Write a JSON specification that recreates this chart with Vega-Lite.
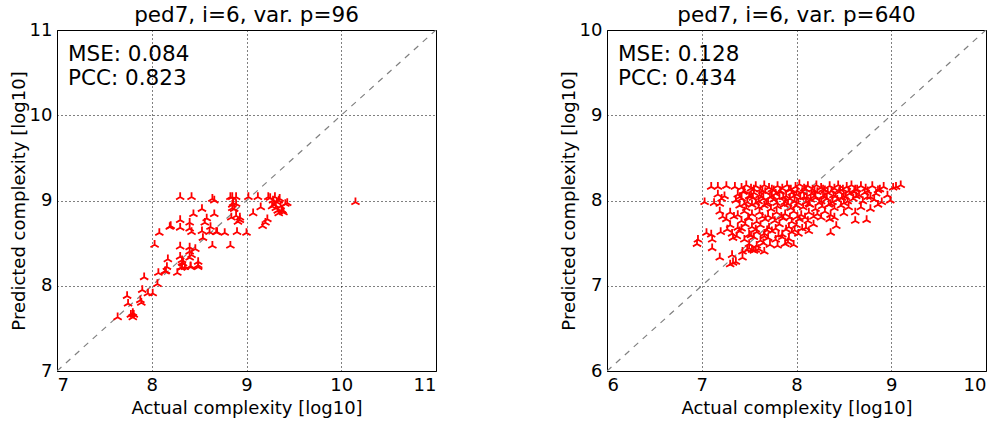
{
 "$schema": "https://vega.github.io/schema/vega-lite/v6.json",
 "background": "white",
 "padding": {"left": 9, "top": 4, "right": 2, "bottom": 2},
 "spacing": 122,
 "datasets": {
  "left": [
   {"a":8.30,"p":9.04},{"a":8.42,"p":9.04},{"a":8.64,"p":9.02},{"a":8.66,"p":9.00},{"a":8.83,"p":9.04},{"a":8.85,"p":9.04},{"a":8.89,"p":9.04},{"a":9.02,"p":9.04},{"a":9.12,"p":9.04},{"a":9.23,"p":9.04},
   {"a":9.28,"p":9.00},{"a":9.32,"p":8.98},{"a":9.34,"p":9.00},{"a":9.29,"p":8.95},{"a":9.27,"p":8.93},{"a":9.31,"p":8.91},{"a":9.36,"p":8.93},{"a":9.41,"p":8.96},{"a":9.33,"p":8.88},{"a":9.38,"p":8.88},
   {"a":9.34,"p":8.85},{"a":9.15,"p":8.92},{"a":9.07,"p":8.85},{"a":9.22,"p":8.78},{"a":9.20,"p":8.74},{"a":9.17,"p":8.70},{"a":8.85,"p":8.95},{"a":8.89,"p":8.96},{"a":8.87,"p":8.90},{"a":8.84,"p":8.80},
   {"a":8.89,"p":8.82},{"a":8.93,"p":8.80},{"a":8.91,"p":8.75},{"a":8.53,"p":8.90},{"a":8.44,"p":8.84},{"a":8.66,"p":8.84},{"a":8.58,"p":8.79},{"a":8.30,"p":8.77},{"a":8.20,"p":8.70},{"a":8.40,"p":8.74},
   {"a":8.40,"p":8.67},{"a":8.30,"p":8.68},{"a":8.56,"p":8.74},{"a":8.53,"p":8.64},{"a":8.62,"p":8.69},{"a":8.61,"p":8.63},{"a":8.68,"p":8.63},{"a":8.54,"p":8.56},{"a":8.77,"p":8.62},{"a":8.90,"p":8.63},
   {"a":9.00,"p":8.62},{"a":8.08,"p":8.62},{"a":8.03,"p":8.48},{"a":8.30,"p":8.46},{"a":8.64,"p":8.47},{"a":8.83,"p":8.47},{"a":8.40,"p":8.40},{"a":8.46,"p":8.43},{"a":8.40,"p":8.33},{"a":8.49,"p":8.28},
   {"a":8.30,"p":8.34},{"a":8.32,"p":8.30},{"a":8.33,"p":8.26},{"a":8.32,"p":8.22},{"a":8.31,"p":8.21},{"a":8.35,"p":8.22},{"a":8.17,"p":8.31},{"a":8.16,"p":8.22},{"a":8.15,"p":8.17},{"a":8.27,"p":8.15},
   {"a":8.41,"p":8.23},{"a":8.49,"p":8.24},{"a":8.07,"p":8.15},{"a":7.92,"p":8.10},{"a":8.06,"p":8.02},{"a":7.90,"p":7.95},{"a":7.96,"p":7.91},{"a":8.01,"p":7.91},{"a":7.74,"p":7.88},{"a":7.75,"p":7.79},
   {"a":7.88,"p":7.83},{"a":7.89,"p":7.80},{"a":7.80,"p":7.68},{"a":7.78,"p":7.66},{"a":7.81,"p":7.66},{"a":7.80,"p":7.63},{"a":7.64,"p":7.63},{"a":10.15,"p":8.98},
   {"a":9.25,"p":9.03},{"a":9.35,"p":9.02},{"a":9.43,"p":8.97},{"a":9.30,"p":9.04},{"a":9.37,"p":8.89},{"a":9.39,"p":8.86},
   {"a":8.41,"p":8.22},{"a":8.49,"p":8.22},{"a":8.14,"p":8.17},{"a":8.32,"p":8.27},{"a":8.19,"p":8.69},{"a":8.42,"p":8.63},{"a":8.69,"p":8.63},{"a":8.93,"p":8.77},{"a":8.42,"p":8.36},{"a":8.40,"p":8.45},{"a":8.86,"p":8.97},{"a":8.85,"p":8.91}
  ],
  "right": [
   {"a":7.42,"p":8.15},{"a":7.47,"p":8.18},{"a":7.52,"p":8.14},{"a":7.57,"p":8.17},{"a":7.62,"p":8.13},{"a":7.66,"p":8.18},{"a":7.71,"p":8.15},{"a":7.76,"p":8.12},{"a":7.80,"p":8.17},{"a":7.85,"p":8.14},{"a":7.90,"p":8.18},{"a":7.94,"p":8.13},{"a":7.99,"p":8.16},{"a":8.03,"p":8.19},{"a":8.08,"p":8.14},{"a":8.12,"p":8.17},{"a":8.17,"p":8.13},{"a":8.21,"p":8.18},{"a":8.26,"p":8.15},{"a":8.30,"p":8.12},{"a":8.35,"p":8.17},{"a":8.40,"p":8.14},{"a":8.44,"p":8.18},{"a":8.49,"p":8.13},{"a":8.53,"p":8.16},{"a":8.58,"p":8.18},{"a":8.62,"p":8.13},{"a":8.68,"p":8.17},{"a":8.73,"p":8.14},{"a":8.80,"p":8.17},{"a":8.86,"p":8.12},{"a":8.92,"p":8.16},{"a":9.05,"p":8.16},
   {"a":7.38,"p":8.07},{"a":7.44,"p":8.10},{"a":7.50,"p":8.05},{"a":7.55,"p":8.09},{"a":7.61,"p":8.06},{"a":7.67,"p":8.10},{"a":7.72,"p":8.04},{"a":7.78,"p":8.08},{"a":7.83,"p":8.10},{"a":7.89,"p":8.05},{"a":7.95,"p":8.09},{"a":8.00,"p":8.07},{"a":8.06,"p":8.10},{"a":8.11,"p":8.04},{"a":8.16,"p":8.08},{"a":8.22,"p":8.10},{"a":8.28,"p":8.05},{"a":8.33,"p":8.09},{"a":8.39,"p":8.06},{"a":8.45,"p":8.10},{"a":8.50,"p":8.05},{"a":8.56,"p":8.08},{"a":8.61,"p":8.10},{"a":8.66,"p":8.06},{"a":8.72,"p":8.09},{"a":8.78,"p":8.04},{"a":8.84,"p":8.08},{"a":8.96,"p":8.06},
   {"a":7.36,"p":8.00},{"a":7.42,"p":8.02},{"a":7.48,"p":7.98},{"a":7.54,"p":8.03},{"a":7.60,"p":7.99},{"a":7.65,"p":8.02},{"a":7.70,"p":7.97},{"a":7.76,"p":8.01},{"a":7.82,"p":8.03},{"a":7.88,"p":7.98},{"a":7.93,"p":8.02},{"a":7.98,"p":7.99},{"a":8.04,"p":8.03},{"a":8.10,"p":7.98},{"a":8.15,"p":8.01},{"a":8.20,"p":8.03},{"a":8.26,"p":7.99},{"a":8.32,"p":8.02},{"a":8.38,"p":7.98},{"a":8.43,"p":8.01},{"a":8.48,"p":8.03},{"a":8.54,"p":7.99},{"a":8.60,"p":8.02},{"a":8.70,"p":7.99},{"a":8.82,"p":8.01},{"a":8.90,"p":7.98},
   {"a":7.40,"p":7.94},{"a":7.47,"p":7.91},{"a":7.53,"p":7.95},{"a":7.60,"p":7.92},{"a":7.66,"p":7.94},{"a":7.73,"p":7.90},{"a":7.80,"p":7.93},{"a":7.87,"p":7.95},{"a":7.94,"p":7.91},{"a":8.00,"p":7.94},{"a":8.07,"p":7.92},{"a":8.14,"p":7.95},{"a":8.20,"p":7.90},{"a":8.27,"p":7.93},{"a":8.34,"p":7.95},{"a":8.40,"p":7.91},{"a":8.47,"p":7.94},{"a":8.55,"p":7.92},{"a":8.68,"p":7.92},{"a":8.78,"p":7.90},
   {"a":7.30,"p":7.86},{"a":7.38,"p":7.83},{"a":7.45,"p":7.87},{"a":7.53,"p":7.84},{"a":7.61,"p":7.86},{"a":7.70,"p":7.82},{"a":7.79,"p":7.86},{"a":7.88,"p":7.84},{"a":7.97,"p":7.87},{"a":8.05,"p":7.83},{"a":8.13,"p":7.86},{"a":8.22,"p":7.84},{"a":8.30,"p":7.87},{"a":8.36,"p":7.83},{"a":8.50,"p":7.85},{"a":8.62,"p":7.86},
   {"a":7.26,"p":7.78},{"a":7.42,"p":7.76},{"a":7.50,"p":7.79},{"a":7.58,"p":7.75},{"a":7.67,"p":7.78},{"a":7.77,"p":7.76},{"a":7.86,"p":7.79},{"a":7.95,"p":7.75},{"a":8.03,"p":7.78},{"a":8.12,"p":7.76},{"a":8.35,"p":7.78},{"a":8.40,"p":7.80},{"a":8.62,"p":7.76},
   {"a":7.30,"p":7.71},{"a":7.38,"p":7.68},{"a":7.46,"p":7.72},{"a":7.53,"p":7.69},{"a":7.62,"p":7.71},{"a":7.71,"p":7.68},{"a":7.82,"p":7.72},{"a":7.92,"p":7.69},{"a":8.00,"p":7.71},{"a":8.10,"p":7.68},{"a":8.18,"p":7.72},{"a":8.42,"p":7.70},
   {"a":7.20,"p":7.63},{"a":7.32,"p":7.61},{"a":7.40,"p":7.64},{"a":7.50,"p":7.60},{"a":7.58,"p":7.63},{"a":7.66,"p":7.61},{"a":7.74,"p":7.64},{"a":7.85,"p":7.60},{"a":7.95,"p":7.63},{"a":8.02,"p":7.61},{"a":8.13,"p":7.64},{"a":8.36,"p":7.62},
   {"a":7.33,"p":7.56},{"a":7.45,"p":7.54},{"a":7.55,"p":7.57},{"a":7.62,"p":7.53},{"a":7.70,"p":7.56},{"a":7.78,"p":7.54},{"a":7.85,"p":7.57},{"a":7.92,"p":7.55},
   {"a":7.50,"p":7.49},{"a":7.58,"p":7.47},{"a":7.65,"p":7.50},{"a":7.72,"p":7.48},{"a":7.80,"p":7.47},{"a":7.88,"p":7.49},{"a":7.97,"p":7.48},
   {"a":7.48,"p":7.42},{"a":7.55,"p":7.41},{"a":7.60,"p":7.43},{"a":7.66,"p":7.40},
   {"a":7.10,"p":8.16},{"a":7.17,"p":8.16},{"a":7.26,"p":8.17},{"a":7.35,"p":8.16},{"a":7.03,"p":7.98},{"a":7.13,"p":7.97},{"a":7.17,"p":8.07},{"a":7.21,"p":8.02},{"a":7.24,"p":8.05},{"a":7.19,"p":7.96},
   {"a":6.96,"p":7.54},{"a":6.95,"p":7.49},{"a":7.05,"p":7.62},{"a":7.10,"p":7.60},{"a":7.11,"p":7.54},{"a":7.11,"p":7.44},{"a":7.19,"p":7.87},{"a":7.22,"p":7.81},{"a":7.19,"p":7.33},{"a":7.32,"p":7.36},
   {"a":7.33,"p":7.27},{"a":7.43,"p":7.40},{"a":7.43,"p":7.33},{"a":7.50,"p":7.44},{"a":7.53,"p":7.42},{"a":7.57,"p":7.42},{"a":7.91,"p":7.51},{"a":8.74,"p":7.77},{"a":8.86,"p":7.95},{"a":8.99,"p":8.00},
   {"a":9.02,"p":8.15},{"a":9.10,"p":8.18},{"a":7.30,"p":7.25},{"a":7.36,"p":7.28},
   {"a":7.45,"p":8.11},{"a":7.55,"p":8.13},{"a":7.64,"p":8.11},{"a":7.74,"p":8.13},{"a":7.83,"p":8.11},{"a":7.92,"p":8.13},{"a":8.01,"p":8.11},{"a":8.10,"p":8.13},{"a":8.19,"p":8.11},{"a":8.28,"p":8.13},{"a":8.37,"p":8.11},{"a":8.46,"p":8.13},{"a":8.55,"p":8.11},{"a":8.64,"p":8.13},{"a":8.75,"p":8.11},{"a":8.88,"p":8.13},
   {"a":7.40,"p":8.04},{"a":7.52,"p":8.05},{"a":7.63,"p":8.04},{"a":7.74,"p":8.05},{"a":7.86,"p":8.04},{"a":7.97,"p":8.05},{"a":8.08,"p":8.04},{"a":8.19,"p":8.05},{"a":8.30,"p":8.04},{"a":8.41,"p":8.05},{"a":8.52,"p":8.04},{"a":8.63,"p":8.05},{"a":8.75,"p":8.04},
   {"a":7.45,"p":7.96},{"a":7.57,"p":7.97},{"a":7.68,"p":7.96},{"a":7.79,"p":7.97},{"a":7.91,"p":7.96},{"a":8.02,"p":7.97},{"a":8.13,"p":7.96},{"a":8.24,"p":7.97},{"a":8.36,"p":7.96},{"a":8.50,"p":7.97},
   {"a":7.34,"p":7.81},{"a":7.49,"p":7.80},{"a":7.64,"p":7.81},{"a":7.75,"p":7.80},{"a":7.84,"p":7.81},{"a":7.93,"p":7.80},{"a":8.01,"p":7.81},{"a":8.09,"p":7.80},{"a":8.18,"p":7.81},{"a":8.26,"p":7.80},
   {"a":7.27,"p":7.66},{"a":7.42,"p":7.67},{"a":7.57,"p":7.66},{"a":7.69,"p":7.65},{"a":7.78,"p":7.67},{"a":7.89,"p":7.66},{"a":7.98,"p":7.65},{"a":8.06,"p":7.67},
   {"a":7.37,"p":7.58},{"a":7.52,"p":7.59},{"a":7.66,"p":7.58},{"a":7.81,"p":7.59}
  ]
 },
 "config": {
  "font": "DejaVu Sans",
  "view": {"stroke": "black", "strokeWidth": 1},
  "axis": {
   "grid": true, "gridColor": "black", "gridDash": [1, 3], "gridWidth": 1, "gridOpacity": 1,
   "domain": false, "ticks": false, "format": "d",
   "labelFont": "DejaVu Sans", "labelFontSize": 18, "labelColor": "black",
   "titleFont": "DejaVu Sans", "titleFontSize": 18, "titleFontWeight": "normal", "titleColor": "black"
  },
  "axisX": {"labelPadding": 5, "titlePadding": 5},
  "axisY": {"labelPadding": 5, "titlePadding": 1},
  "title": {"font": "DejaVu Sans", "fontSize": 21.5, "fontWeight": "normal", "color": "black", "offset": -5}
 },
 "hconcat": [
  {
   "width": 379, "height": 341,
   "title": "ped7, i=6, var. p=96",
   "layer": [
    {
     "data": {"values": [{"a": 7, "p": 7}, {"a": 11, "p": 11}]},
     "mark": {"type": "line", "color": "#808080", "strokeDash": [6, 6], "strokeWidth": 1.2, "clip": true},
     "encoding": {
      "x": {"field": "a", "type": "quantitative", "scale": {"domain": [7, 11], "nice": false, "zero": false}, "axis": {"values": [7, 8, 9, 10, 11], "title": "Actual complexity [log10]"}},
      "y": {"field": "p", "type": "quantitative", "scale": {"domain": [7, 11], "nice": false, "zero": false}, "axis": {"values": [7, 8, 9, 10, 11], "title": "Predicted complexity [log10]"}}
     }
    },
    {
     "data": {"name": "left"},
     "mark": {"type": "point", "shape": "M0,0L0,-1M0,0L-0.866,0.5M0,0L0.866,0.5", "filled": false, "stroke": "red", "strokeWidth": 1.8, "size": 90, "opacity": 1},
     "encoding": {
      "x": {"field": "a", "type": "quantitative"},
      "y": {"field": "p", "type": "quantitative"}
     }
    },
    {
     "data": {"values": [{}]},
     "mark": {"type": "text", "align": "left", "baseline": "alphabetic", "fontSize": 21.5, "color": "black"},
     "encoding": {"x": {"datum": 7.116}, "y": {"datum": 10.636}, "text": {"value": "MSE: 0.084"}}
    },
    {
     "data": {"values": [{}]},
     "mark": {"type": "text", "align": "left", "baseline": "alphabetic", "fontSize": 21.5, "color": "black"},
     "encoding": {"x": {"datum": 7.116}, "y": {"datum": 10.355}, "text": {"value": "PCC: 0.823"}}
    }
   ]
  },
  {
   "width": 379, "height": 341,
   "title": "ped7, i=6, var. p=640",
   "layer": [
    {
     "data": {"values": [{"a": 6, "p": 6}, {"a": 10, "p": 10}]},
     "mark": {"type": "line", "color": "#808080", "strokeDash": [6, 6], "strokeWidth": 1.2, "clip": true},
     "encoding": {
      "x": {"field": "a", "type": "quantitative", "scale": {"domain": [6, 10], "nice": false, "zero": false}, "axis": {"values": [6, 7, 8, 9, 10], "title": "Actual complexity [log10]"}},
      "y": {"field": "p", "type": "quantitative", "scale": {"domain": [6, 10], "nice": false, "zero": false}, "axis": {"values": [6, 7, 8, 9, 10], "title": "Predicted complexity [log10]"}}
     }
    },
    {
     "data": {"name": "right"},
     "mark": {"type": "point", "shape": "M0,0L0,-1M0,0L-0.866,0.5M0,0L0.866,0.5", "filled": false, "stroke": "red", "strokeWidth": 1.8, "size": 90, "opacity": 1},
     "encoding": {
      "x": {"field": "a", "type": "quantitative"},
      "y": {"field": "p", "type": "quantitative"}
     }
    },
    {
     "data": {"values": [{}]},
     "mark": {"type": "text", "align": "left", "baseline": "alphabetic", "fontSize": 21.5, "color": "black"},
     "encoding": {"x": {"datum": 6.116}, "y": {"datum": 9.636}, "text": {"value": "MSE: 0.128"}}
    },
    {
     "data": {"values": [{}]},
     "mark": {"type": "text", "align": "left", "baseline": "alphabetic", "fontSize": 21.5, "color": "black"},
     "encoding": {"x": {"datum": 6.116}, "y": {"datum": 9.355}, "text": {"value": "PCC: 0.434"}}
    }
   ]
  }
 ]
}
